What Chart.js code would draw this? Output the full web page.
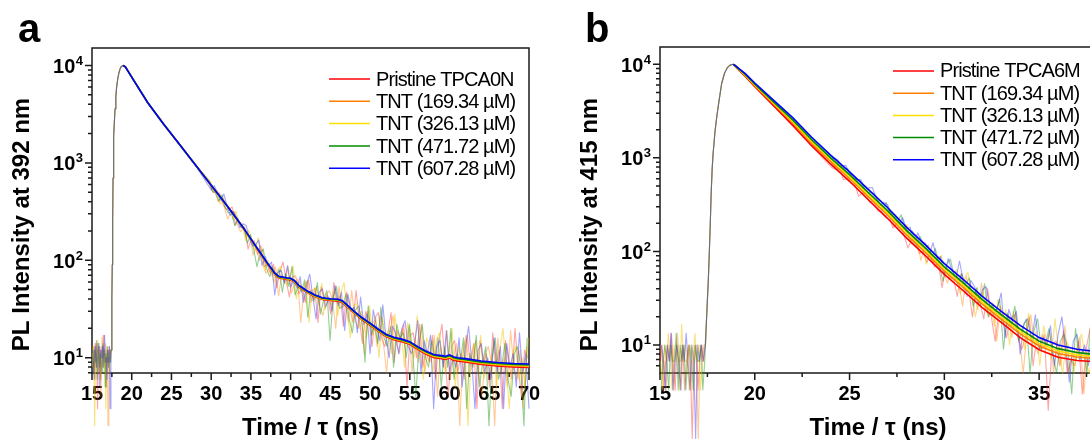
<!DOCTYPE html>
<html>
<head>
<meta charset="utf-8">
<script src="https://cdn.jsdelivr.net/npm/chart.js@4.4.1/dist/chart.umd.min.js"></script>
<style>
  html, body { margin: 0; padding: 0; background: #fff; overflow: hidden; }
  body { width: 1090px; height: 443px; position: relative; }
  canvas { position: absolute; top: 0; }
  #chartA { left: 0; }
  #chartB { left: 545px; }
</style>
</head>
<body>
<canvas id="chartA" width="545" height="443"></canvas>
<canvas id="chartB" width="600" height="443"></canvas>
<script>
// ---- axis ticks / labels ----
const xTicksA = [15, 20, 25, 30, 35, 40, 45, 50, 55, 60, 65, 70];
const xTicksB = [15, 20, 25, 30, 35];
const yTickVals = [10, 100, 1000, 10000];
const yTickExps = ['1', '2', '3', '4'];
const labelsA = ['Pristine TPCA0N', 'TNT (169.34 µM)', 'TNT (326.13 µM)', 'TNT (471.72 µM)', 'TNT (607.28 µM)'];
const labelsB = ['Pristine TPCA6M', 'TNT (169.34 µM)', 'TNT (326.13 µM)', 'TNT (471.72 µM)', 'TNT (607.28 µM)'];

// ---- panel a : fitted decays ----
const fitTimesA = [18.9, 19.2, 20, 22, 24, 26, 28, 30, 32, 33, 34, 35, 36, 37, 38, 38.5, 39.5, 40, 40.5, 41, 42, 43, 44, 45, 46, 46.5, 47, 48, 49, 50, 51, 52, 53, 54, 55, 56, 57, 58, 59, 59.5, 60, 60.5, 61, 62, 64, 66, 68, 70];
const fitRedA = [10000, 9700, 7600, 4170, 2510, 1550, 955, 589, 363, 281, 217, 163, 123, 92.9, 71.6, 66.1, 63.7, 62.9, 59.5, 53.6, 47.1, 42.5, 39.5, 38.7, 38.1, 36.8, 33.9, 28.6, 24.5, 21.5, 18.7, 16.5, 15.3, 14.6, 13.7, 12.2, 10.9, 10.05, 9.75, 9.58, 9.90, 9.43, 9.25, 9.02, 8.52, 8.22, 8.04, 7.95];
const fitOrangeA = [10000, 9700, 7600, 4170, 2510, 1550, 955, 589, 363, 281, 217, 164, 124, 93.7, 72.3, 66.8, 64.4, 63.6, 60.1, 54.2, 47.7, 43.0, 40.0, 39.1, 38.6, 37.3, 34.4, 29.0, 24.9, 21.8, 19.0, 16.8, 15.6, 14.9, 14.0, 12.4, 11.1, 10.3, 9.99, 9.82, 10.1, 9.66, 9.47, 9.24, 8.72, 8.42, 8.23, 8.14];
const fitYellowA = [10000, 9700, 7600, 4170, 2510, 1550, 955, 589, 363, 281, 218, 164.5, 124.5, 94.2, 72.8, 67.2, 64.9, 64.1, 60.6, 54.6, 48.1, 43.3, 40.4, 39.5, 39.0, 37.7, 34.7, 29.2, 25.1, 22.0, 19.2, 16.9, 15.7, 15.0, 14.1, 12.6, 11.3, 10.4, 10.1, 9.96, 10.3, 9.81, 9.62, 9.39, 8.87, 8.56, 8.37, 8.27];
const fitGreenA = [10000, 9700, 7600, 4170, 2510, 1550, 955, 589, 363, 282, 218, 165, 125, 94.7, 73.3, 67.7, 65.4, 64.6, 61.0, 55.0, 48.4, 43.7, 40.7, 39.8, 39.3, 38.0, 35.0, 29.5, 25.3, 22.3, 19.4, 17.1, 15.9, 15.2, 14.3, 12.7, 11.5, 10.6, 10.3, 10.1, 10.45, 9.96, 9.77, 9.53, 9.01, 8.70, 8.50, 8.40];
const fitBlueA = [10000, 9700, 7600, 4170, 2510, 1550, 955, 589, 363, 282, 219, 166, 126, 95.5, 74.1, 68.4, 66.1, 65.3, 61.7, 55.6, 49.0, 44.2, 41.2, 40.3, 39.8, 38.5, 35.5, 29.9, 25.7, 22.6, 19.7, 17.4, 16.2, 15.5, 14.6, 13.0, 11.7, 10.8, 10.5, 10.35, 10.7, 10.2, 10.0, 9.77, 9.23, 8.91, 8.71, 8.61];

// ---- panel a : raw counts (baseline 15 ns + 0.1 ns steps, rise, tail 30 ns + 0.4 ns steps) ----
const baseRedA = [9, 12, 7, 10, 14, 8, 11, 3, 10, 13, 9, 6, 12, 10, 17, 8, 11, 9, 5, 12, 10, 8, 13, 9];
const baseOrangeA = [11, 8, 13, 9, 6, 12, 10, 15, 7, 9, 12, 4, 10, 13, 8, 11, 9, 14, 7, 10, 2, 12, 9, 11];
const baseYellowA = [8, 13, 10, 2, 11, 9, 14, 7, 12, 10, 6, 11, 16, 9, 8, 12, 10, 3, 13, 9, 11, 7, 10, 12];
const baseGreenA = [10, 7, 12, 11, 9, 15, 6, 10, 13, 8, 11, 9, 7, 14, 10, 12, 5, 11, 9, 13, 8, 10, 12, 9];
const baseBlueA = [12, 9, 6, 13, 10, 8, 11, 14, 9, 5, 12, 10, 13, 8, 11, 17, 9, 10, 6, 12, 9, 13, 3, 10];
const riseTimesA = [17.4, 17.5, 17.55, 17.6, 17.65, 17.7, 17.75, 17.8, 17.9, 18.0, 18.1, 18.25, 18.4, 18.55, 18.7, 18.9, 19.2, 20, 22, 24, 26, 28];
const riseA = [12, 40, 90, 250, 700, 1300, 1900, 2500, 3600, 4800, 6000, 7400, 8500, 9300, 9800, 10000, 9700, 7600, 4170, 2510, 1550, 955];
const tailRedA = [600, 493, 512, 488, 388, 337, 333, 352, 231, 259, 215, 219, 130, 166, 158, 114, 142, 86, 90, 74, 91, 52, 76, 96, 62, 42, 68, 69, 45, 54, 37, 63, 39, 52, 23, 53, 40, 44, 28, 59, 36, 44, 21, 47, 33, 23, 49, 25, 14, 30, 25, 13, 26, 29, 16, 13, 18, 29, 9, 19, 15, 22, 5, 17, 18, 10, 22, 8, 12, 9, 17, 6, 14, 22, 9, 4, 13, 15, 7, 11, 6, 17, 8, 14, 3, 15, 9, 11, 5, 18, 8, 12, 3, 15, 9, 6, 20, 8, 4, 12, 10];
const tailOrangeA = [626, 535, 503, 400, 442, 343, 265, 306, 317, 233, 197, 213, 172, 179, 113, 136, 99, 131, 73, 82, 69, 86, 43, 71, 59, 86, 46, 57, 64, 23, 51, 62, 37, 40, 54, 33, 27, 44, 49, 39, 20, 54, 32, 36, 23, 49, 25, 20, 30, 11, 30, 21, 24, 13, 27, 14, 7, 18, 27, 14, 11, 20, 14, 21, 7, 16, 9, 22, 7, 12, 9, 17, 4, 13, 8, 19, 6, 10, 14, 2, 11, 17, 7, 8, 15, 7, 4, 11, 13, 9, 2, 16, 7, 10, 5, 19, 8, 6, 12, 3, 13];
const tailYellowA = [647, 514, 516, 378, 436, 360, 341, 264, 319, 236, 232, 160, 204, 160, 126, 170, 110, 78, 101, 85, 59, 80, 86, 62, 55, 66, 88, 40, 61, 49, 61, 23, 49, 52, 35, 58, 31, 40, 35, 52, 27, 46, 59, 31, 16, 34, 36, 20, 27, 16, 34, 17, 26, 10, 26, 17, 19, 11, 28, 14, 19, 8, 23, 15, 10, 27, 12, 6, 16, 13, 7, 15, 18, 9, 7, 11, 20, 5, 13, 9, 15, 2, 11, 14, 7, 17, 6, 9, 7, 15, 5, 12, 20, 8, 3, 11, 13, 6, 10, 5, 16];
const tailGreenA = [645, 512, 493, 406, 469, 352, 306, 316, 226, 269, 219, 207, 150, 184, 129, 86, 118, 130, 83, 68, 84, 67, 81, 47, 73, 54, 86, 44, 55, 47, 63, 26, 49, 38, 59, 28, 40, 49, 15, 42, 54, 32, 34, 45, 25, 18, 31, 34, 24, 9, 34, 17, 22, 14, 33, 16, 13, 21, 8, 22, 16, 18, 10, 22, 11, 4, 14, 22, 10, 8, 15, 10, 16, 5, 13, 8, 20, 6, 11, 9, 16, 3, 11, 8, 17, 5, 9, 13, 2, 10, 16, 6, 8, 14, 6, 4, 11, 13, 8, 2, 16];
const tailBlueA = [527, 584, 489, 413, 478, 357, 289, 319, 277, 217, 237, 228, 168, 141, 144, 161, 88, 110, 87, 96, 44, 75, 79, 58, 88, 53, 63, 52, 68, 37, 56, 72, 42, 25, 47, 51, 33, 42, 30, 55, 34, 47, 19, 45, 31, 33, 18, 42, 22, 28, 11, 31, 21, 15, 35, 16, 10, 21, 18, 11, 20, 24, 13, 11, 14, 24, 7, 15, 11, 17, 3, 13, 15, 8, 19, 7, 10, 8, 16, 5, 13, 21, 9, 3, 12, 14, 7, 10, 6, 16, 7, 13, 3, 14, 8, 11, 5, 18, 7, 11, 3];

// ---- panel b : fitted decays ----
const fitTimesB = [18.87, 19, 19.5, 20, 21, 22, 23, 24, 25, 26, 27, 28, 29, 30, 31, 32, 33, 34, 35, 36, 37, 38, 39, 40];
const fitRedB = [10000, 9330, 7410, 5750, 3590, 2240, 1350, 861, 562, 355, 226, 139.6, 90.2, 56.9, 38.0, 25.1, 17.4, 12.0, 8.91, 7.41, 6.84, 6.61, 6.46, 6.31];
const fitOrangeB = [10000, 9400, 7570, 5920, 3740, 2366, 1435, 919, 603, 383, 245, 151, 97.6, 61.6, 41.3, 27.3, 18.9, 13.15, 9.75, 8.11, 7.43, 7.13, 6.92, 6.76];
const fitYellowB = [10000, 9440, 7670, 6030, 3850, 2455, 1496, 960, 631, 403, 258.5, 159.4, 102.9, 64.9, 43.7, 28.8, 20.0, 14.0, 10.35, 8.61, 7.85, 7.50, 7.24, 7.08];
const fitGreenB = [10000, 9480, 7780, 6140, 3950, 2550, 1560, 1000, 661, 424, 273, 168, 108.5, 68.5, 46.1, 30.5, 21.1, 14.8, 11.0, 9.14, 8.30, 7.89, 7.59, 7.41];
const fitBlueB = [10000, 9550, 7940, 6310, 4120, 2690, 1660, 1070, 708, 457, 295, 182, 117.5, 74.1, 50.1, 33.1, 22.9, 16.2, 12.0, 10.0, 9.02, 8.51, 8.13, 7.94];

// ---- panel b : raw counts (baseline 15 ns + 0.1 ns, rise, tail 24 ns + 0.2 ns) ----
const baseRedB = [6.7, 10, 3.3, 6.7, 10, 6.7, 13.3, 6.7, 3.3, 10, 6.7, 6.7, 10, 3.3, 6.7, 10, 6.7, 1, 6.7, 10, 3.3, 6.7, 10, 6.7];
const baseOrangeB = [10, 6.7, 6.7, 3.3, 10, 6.7, 10, 3.3, 6.7, 13.3, 6.7, 3.3, 10, 6.7, 6.7, 10, 3.3, 6.7, 10, 6.7, 1, 10, 6.7, 10];
const baseYellowB = [6.7, 3.3, 10, 6.7, 13.3, 6.7, 3.3, 10, 6.7, 10, 3.3, 16.7, 6.7, 10, 6.7, 3.3, 10, 6.7, 13.3, 6.7, 10, 3.3, 6.7, 10];
const baseGreenB = [3.3, 6.7, 10, 6.7, 3.3, 10, 6.7, 6.7, 13.3, 3.3, 10, 6.7, 10, 3.3, 6.7, 10, 6.7, 3.3, 10, 6.7, 6.7, 10, 3.3, 6.7];
const baseBlueB = [10, 6.7, 3.3, 10, 6.7, 13.3, 3.3, 6.7, 10, 6.7, 3.3, 10, 6.7, 13.3, 6.7, 3.3, 10, 6.7, 1, 10, 6.7, 10, 6.7, 10];
const riseTimesB = [17.4, 17.45, 17.5, 17.55, 17.6, 17.65, 17.7, 17.75, 17.8, 17.9, 18.0, 18.1, 18.25, 18.4, 18.55, 18.7, 18.87, 19.0];
const riseB = [10, 18, 30, 50, 95, 190, 420, 750, 1100, 1900, 2800, 3900, 6200, 8000, 9200, 9800, 10000, 9700];
const tailRedB = [782, 753, 762, 583, 603, 532, 525, 388, 425, 402, 330, 360, 270, 268, 235, 249, 178, 197, 209, 147, 109, 134, 130, 95, 100, 76, 100, 68, 77, 41, 68, 51, 52, 33, 58, 35, 40, 20, 40, 28, 19, 40, 20, 11, 23, 19, 12, 19, 21, 12, 9, 12, 20, 6, 12, 9, 13, 2, 10, 11, 6, 14, 5, 7, 6, 11, 3, 9, 15, 6, 2, 8];
const tailOrangeB = [797, 829, 822, 677, 605, 613, 533, 525, 408, 430, 356, 397, 291, 294, 259, 272, 183, 209, 172, 194, 129, 137, 140, 80, 109, 117, 79, 78, 87, 59, 46, 61, 61, 48, 26, 55, 33, 37, 24, 46, 25, 20, 28, 11, 26, 19, 21, 12, 22, 12, 5, 14, 21, 10, 8, 13, 9, 14, 5, 11, 6, 16, 5, 8, 7, 12, 3, 9, 6, 13, 4, 7];
const tailYellowB = [955, 814, 868, 718, 694, 565, 612, 523, 451, 507, 395, 330, 355, 315, 256, 275, 265, 205, 178, 177, 193, 121, 143, 120, 127, 73, 99, 97, 70, 91, 54, 60, 51, 64, 35, 50, 60, 35, 20, 35, 36, 22, 26, 16, 31, 17, 24, 10, 23, 15, 16, 9, 22, 11, 14, 6, 16, 10, 7, 19, 8, 5, 11, 9, 5, 11, 13, 7, 5, 8, 15, 3];
const tailGreenB = [986, 946, 741, 779, 763, 627, 590, 586, 481, 419, 433, 410, 353, 276, 334, 260, 252, 204, 247, 178, 153, 165, 113, 144, 118, 115, 82, 108, 74, 48, 72, 83, 54, 45, 58, 44, 52, 26, 41, 27, 45, 20, 27, 22, 31, 9, 22, 16, 26, 11, 15, 19, 5, 14, 19, 9, 10, 15, 8, 5, 11, 13, 9, 3, 15, 7, 9, 5, 17, 7, 6, 10];
const tailBlueB = [974, 1002, 943, 810, 834, 673, 649, 578, 584, 458, 476, 483, 376, 306, 334, 317, 251, 247, 200, 229, 172, 182, 121, 158, 127, 123, 90, 124, 84, 88, 55, 84, 64, 50, 79, 48, 33, 49, 42, 27, 39, 42, 26, 21, 25, 36, 12, 24, 18, 23, 8, 17, 19, 11, 21, 9, 12, 10, 16, 6, 13, 20, 9, 4, 11, 13, 7, 10, 6, 15, 7, 12];

const FONT = "'Liberation Sans', Arial, sans-serif";
const lineColors = ['#ff0000', '#ff8000', '#ffe000', '#008c00', '#0000ff'];
const rawColors = ['rgba(255,40,40,0.42)', 'rgba(255,128,0,0.42)', 'rgba(240,200,0,0.5)', 'rgba(0,140,0,0.42)', 'rgba(40,40,255,0.42)'];

const decorCfg = {
  chartA: { panel: 'a', panelX: 18, yTitle: 'PL Intensity at 392 nm', yTitleX: 29, xTicks: xTicksA, labels: labelsA,
            legX0: 329, legX1: 370, legTx: 376, legY: 79, legDy: 22.3, legBase: 6.7 },
  chartB: { panel: 'b', panelX: 40, yTitle: 'PL Intensity at 415 nm', yTitleX: 52, xTicks: xTicksB, labels: labelsB,
            legX0: 348, legX1: 389, legTx: 395, legY: 71, legDy: 22.2, legBase: 6.3 }
};

// frame, ticks, tick labels, titles and legend drawn off the chart's own scales
const axisDecor = {
  id: 'axisDecor',
  beforeDatasetsDraw(chart) {
    const c = decorCfg[chart.canvas.id];
    const { ctx, chartArea: a, scales: { x, y } } = chart;
    ctx.save();
    ctx.strokeStyle = '#1a1a1a';
    ctx.fillStyle = '#000';
    ctx.lineWidth = 1.5;
    ctx.strokeRect(a.left, a.top, a.right - a.left, a.bottom - a.top);

    ctx.beginPath();
    c.xTicks.forEach(v => {
      const px = x.getPixelForValue(v);
      ctx.moveTo(px, a.bottom); ctx.lineTo(px, a.bottom + 7);
      if (v + 2.5 <= x.max) {
        const pm = x.getPixelForValue(v + 2.5);
        ctx.moveTo(pm, a.bottom); ctx.lineTo(pm, a.bottom + 4);
      }
    });
    yTickVals.forEach(v => {
      const py = y.getPixelForValue(v);
      ctx.moveTo(a.left, py); ctx.lineTo(a.left - 7, py);
    });
    for (let d = 1; d <= 10000; d *= 10) {
      for (let m = 2; m <= 9; m++) {
        const v = d * m;
        if (v < y.min || v > y.max) continue;
        const py = y.getPixelForValue(v);
        ctx.moveTo(a.left, py); ctx.lineTo(a.left - 4, py);
      }
    }
    ctx.stroke();

    // x tick labels
    ctx.font = `bold 20px ${FONT}`;
    ctx.textAlign = 'center';
    ctx.textBaseline = 'alphabetic';
    c.xTicks.forEach(v => ctx.fillText(String(v), x.getPixelForValue(v), a.bottom + 27));

    // y tick labels 10^n
    ctx.textAlign = 'right';
    yTickVals.forEach((v, i) => {
      const py = y.getPixelForValue(v);
      const right = a.left - 9;
      ctx.font = `bold 13px ${FONT}`;
      const w = ctx.measureText(yTickExps[i]).width;
      ctx.fillText(yTickExps[i], right, py - 0.5);
      ctx.font = `bold 20px ${FONT}`;
      ctx.fillText('10', right - w - 0.5, py + 7.5);
    });

    // axis titles
    ctx.font = `bold 24px ${FONT}`;
    ctx.textAlign = 'center';
    ctx.fillText('Time / τ (ns)', (a.left + a.right) / 2, 435);
    ctx.save();
    ctx.translate(c.yTitleX, 224.5);
    ctx.rotate(-Math.PI / 2);
    ctx.fillText(c.yTitle, 0, 0);
    ctx.restore();

    // panel letter
    ctx.font = `bold 40px ${FONT}`;
    ctx.textAlign = 'left';
    ctx.fillText(c.panel, c.panelX, 42);
    ctx.restore();
  },
  afterDatasetsDraw(chart) {
    const c = decorCfg[chart.canvas.id];
    const ctx = chart.ctx;
    ctx.save();
    ctx.font = `20px ${FONT}`;
    ctx.letterSpacing = '-0.9px';
    ctx.textAlign = 'left';
    ctx.textBaseline = 'alphabetic';
    ctx.fillStyle = '#000';
    c.labels.forEach((lab, i) => {
      const yy = c.legY + i * c.legDy;
      ctx.strokeStyle = lineColors[i];
      ctx.lineWidth = 1.5;
      ctx.beginPath(); ctx.moveTo(c.legX0, yy); ctx.lineTo(c.legX1, yy); ctx.stroke();
      ctx.fillText(lab, c.legTx, yy + c.legBase);
    });
    ctx.restore();
  }
};

function fitSet(times, vals, i) {
  return {
    data: times.map((t, k) => ({ x: t, y: vals[k] })),
    borderColor: lineColors[i], borderWidth: 1.6, pointRadius: 0, order: 5 - i
  };
}

function rawSet(base, riseT, riseV, tail, tailStart, tailStep, i) {
  const pts = base.map((v, k) => ({ x: 15 + i * 0.02 + k * 0.1, y: v }));
  riseT.forEach((t, k) => pts.push({ x: t, y: riseV[k] }));
  tail.forEach((v, k) => pts.push({ x: tailStart + k * tailStep, y: v }));
  return {
    data: pts, borderColor: rawColors[i], borderWidth: 1.1, pointRadius: 0,
    borderJoinStyle: 'round', clip: false, order: 14 - i
  };
}

function makeChart(id, datasets, pad, xMax, yMin, yMax) {
  return new Chart(document.getElementById(id), {
    type: 'line',
    data: { datasets },
    options: {
      responsive: false, animation: false, devicePixelRatio: 1, events: [],
      layout: { padding: pad },
      scales: {
        x: { type: 'linear', display: false, min: 15, max: xMax },
        y: { type: 'logarithmic', display: false, min: yMin, max: yMax }
      },
      elements: { line: { tension: 0 } },
      plugins: { legend: { display: false }, tooltip: { enabled: false } }
    },
    plugins: [axisDecor]
  });
}

const offA = [-0.16, -0.32, -0.08, -0.24, 0];
const offB = [0.08, 0.16, 0.04, 0.12, 0];

const setsA = [
  fitSet(fitTimesA, fitRedA, 0), fitSet(fitTimesA, fitOrangeA, 1), fitSet(fitTimesA, fitYellowA, 2),
  fitSet(fitTimesA, fitGreenA, 3), fitSet(fitTimesA, fitBlueA, 4),
  rawSet(baseRedA, riseTimesA, riseA, tailRedA, 30 + offA[0], 0.4, 0),
  rawSet(baseOrangeA, riseTimesA, riseA, tailOrangeA, 30 + offA[1], 0.4, 1),
  rawSet(baseYellowA, riseTimesA, riseA, tailYellowA, 30 + offA[2], 0.4, 2),
  rawSet(baseGreenA, riseTimesA, riseA, tailGreenA, 30 + offA[3], 0.4, 3),
  rawSet(baseBlueA, riseTimesA, riseA, tailBlueA, 30 + offA[4], 0.4, 4)
];

const setsB = [
  fitSet(fitTimesB, fitRedB, 0), fitSet(fitTimesB, fitOrangeB, 1), fitSet(fitTimesB, fitYellowB, 2),
  fitSet(fitTimesB, fitGreenB, 3), fitSet(fitTimesB, fitBlueB, 4),
  rawSet(baseRedB, riseTimesB, riseB, tailRedB, 24 + offB[0], 0.2, 0),
  rawSet(baseOrangeB, riseTimesB, riseB, tailOrangeB, 24 + offB[1], 0.2, 1),
  rawSet(baseYellowB, riseTimesB, riseB, tailYellowB, 24 + offB[2], 0.2, 2),
  rawSet(baseGreenB, riseTimesB, riseB, tailGreenB, 24 + offB[3], 0.2, 3),
  rawSet(baseBlueB, riseTimesB, riseB, tailBlueB, 24 + offB[4], 0.2, 4)
];

makeChart('chartA', setsA, { left: 92, top: 48, right: 16, bottom: 70 }, 70, 6.96, 15130);
makeChart('chartB', setsB, { left: 115, top: 47, right: 49, bottom: 70 }, 38, 5.02, 15310);
</script>
</body>
</html>
